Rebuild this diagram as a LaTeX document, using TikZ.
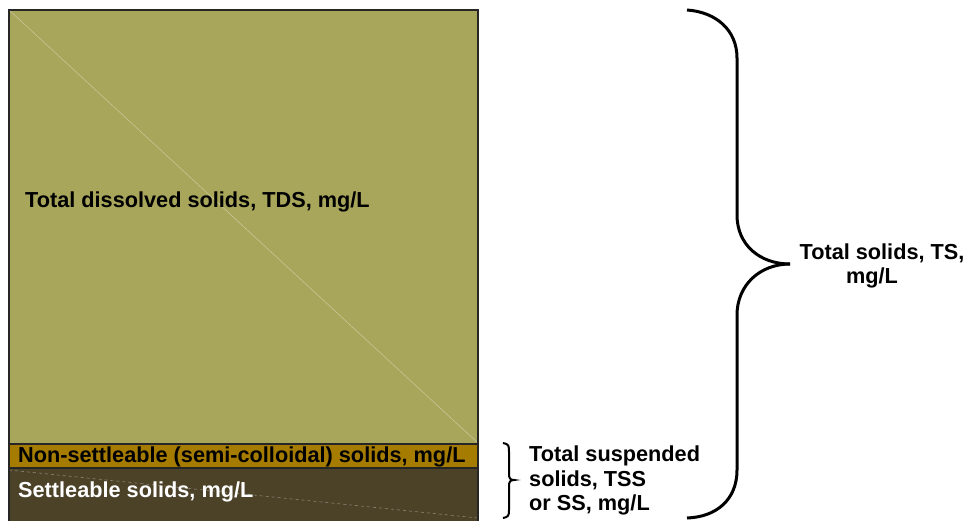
\documentclass[tikz,border=0pt]{standalone}
\usepackage{fontspec}
\setmainfont{Liberation Sans}
\begin{document}
\begin{tikzpicture}[x=1pt,y=-1pt,
  band/.style={draw=black!85, line width=1.2pt},
  lbl/.style={font=\bfseries\fontsize{21.7}{24.3}\selectfont, inner sep=0pt},
  brace/.style={draw=black, line width=3pt, line cap=butt},
  smallbrace/.style={draw=black, line width=2pt},
  streak/.style={draw=white, opacity=0.35, line width=0.6pt}]
\definecolor{tds}{HTML}{A8A65A}
\definecolor{colloid}{HTML}{A67C00}
\definecolor{settle}{HTML}{4B4228}
\useasboundingbox (0,0) rectangle (965,520);
% stacked bands of the solids column
\fill[tds] (9,10) rectangle (478,444);
\fill[colloid] (9,444) rectangle (478,468);
\fill[settle] (9,468) rectangle (478,530);
\draw[streak] (9,10) -- (478,443);
\draw[streak, dashed] (9,470) -- (478,518);
\draw[band] (9,530) -- (9,10) -- (478,10) -- (478,530);
\draw[band] (9,444) -- (478,444);
\draw[band] (9,468) -- (478,468);
% band labels
\node[lbl, anchor=base west] (tds) at (25,207) {Total dissolved solids, TDS, mg/L};
\node[lbl, anchor=base west] (nset) at (18,462) {Non-settleable (semi-colloidal) solids, mg/L};
\node[lbl, anchor=base west, text=white] (set) at (18,497) {Settleable solids, mg/L};
% brace for total solids
\draw[brace] (687,10) .. controls (716,12) and (737,30) .. (737,58) -- (737,215)
  .. controls (737,245) and (760,264) .. (790,264);
\draw[brace] (790,264) .. controls (760,264) and (737,285) .. (737,315) -- (737,470)
  .. controls (737,500) and (716,517) .. (687,518);
\node[lbl, anchor=base] (ts) at (882,259) {Total solids, TS,};
\node[lbl, anchor=base] (tsunit) at (872,283) {mg/L};
% brace for suspended solids
\draw[smallbrace] (503,443) .. controls (509,444) and (509,446) .. (509,452) -- (509,474)
  .. controls (509,478) and (510,480) .. (514,480)
  .. controls (510,480) and (509,482) .. (509,486) -- (509,510)
  .. controls (509,516) and (508,517) .. (503,518);
\node[lbl, align=left, anchor=north west] (tss) at (529,446) {Total suspended\\solids, TSS\\or SS, mg/L};
\end{tikzpicture}
\end{document}
